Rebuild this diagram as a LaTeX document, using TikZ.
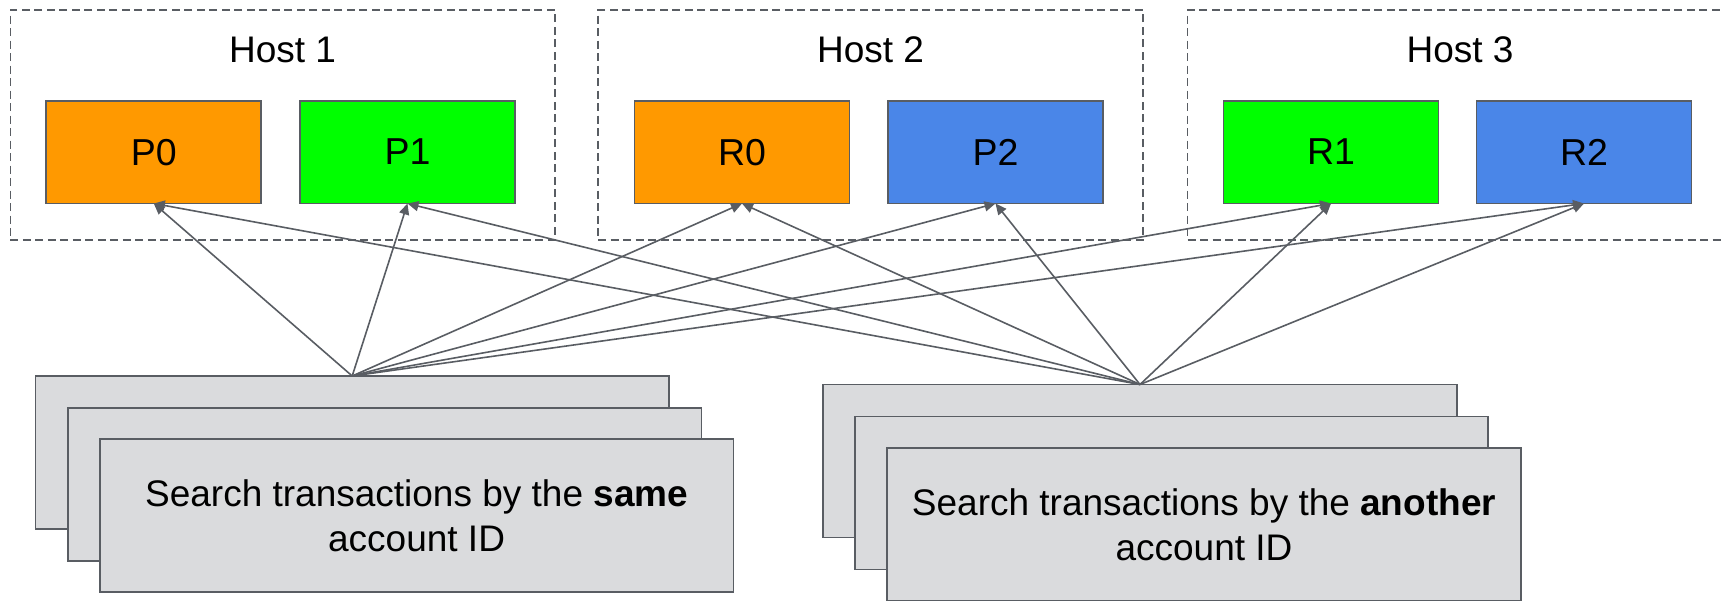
\documentclass[tikz,border=0pt]{standalone}
\usepackage{fontspec}
\setmainfont{Liberation Sans}
\usetikzlibrary{arrows.meta}
\definecolor{orangebox}{HTML}{FF9900}
\definecolor{greenbox}{HTML}{00FF00}
\definecolor{bluebox}{HTML}{4A86E8}
\definecolor{cardfill}{HTML}{DADBDD}
\definecolor{edgegrey}{HTML}{595D63}

\tikzset{
  host/.style={draw=edgegrey, line width=1.4pt, dash pattern=on 8pt off 4.5pt,
    minimum width=544.7pt, minimum height=230pt, inner sep=0pt, outer sep=0pt},
  shard/.style={draw=edgegrey, line width=1.7pt, minimum width=215pt,
    minimum height=102.8pt, inner sep=0pt, outer sep=0pt,
    font=\fontsize{37.5}{44.7}\selectfont},
  card/.style={draw=edgegrey, fill=cardfill, line width=1.7pt,
    minimum width=633.5pt, minimum height=153pt, inner sep=0pt, outer sep=0pt,
    align=center, font=\fontsize{37}{44.7}\selectfont},
  hostlabel/.style={font=\fontsize{37}{44.7}\selectfont, inner sep=0pt, anchor=base},
  link/.style={draw=edgegrey, line width=1.6pt, -{Triangle[length=11pt,width=10pt]}},
}

\begin{document}
\begin{tikzpicture}[x=1pt, y=-1pt]
  \useasboundingbox (0,0) rectangle (1721,601);
  \clip (0,0) rectangle (1721,601);

  % hosts (dashed frames) with their titles
  \node[host] (host1) at (282.6,125) {};
  \node[host] (host2) at (870.5,125) {};
  \node[host] (host3) at (1460,125) {};
  \node[hostlabel] (t1) at (282.6,63) {Host 1};
  \node[hostlabel] (t2) at (870.5,63) {Host 2};
  \node[hostlabel] (t3) at (1460,63) {Host 3};

  % partitions and replicas
  \node[shard, fill=orangebox] (p0) at (153.8,152.1) {P0};
  \node[shard, fill=greenbox]  (p1) at (407.5,152.1) {P1};
  \node[shard, fill=orangebox] (r0) at (742,152.1)   {R0};
  \node[shard, fill=bluebox]   (p2) at (995.5,152.1) {P2};
  \node[shard, fill=greenbox]  (r1) at (1331,152.1)  {R1};
  \node[shard, fill=bluebox]   (r2) at (1584,152.1)  {R2};

  % stacked request cards, left group
  \node[card] (sameA) at (352.2,452.5) {};
  \node[card] (sameB) at (384.6,484.4) {};
  \node[card] (sameC) at (416.6,515.5)
    {Search transactions by the \textbf{same}\\account ID};

  % stacked request cards, right group
  \node[card] (otherA) at (1140,461) {};
  \node[card] (otherB) at (1171.5,493) {};
  \node[card] (otherC) at (1204,524.7)
    {Search transactions by the \textbf{another}\\account ID};

  % every request fans out to all six shards
  \foreach \src in {sameA,otherA}
    \foreach \dst in {p0,p1,r0,p2,r1,r2}
      \draw[link] (\src.north) -- (\dst.south);
\end{tikzpicture}
\end{document}
